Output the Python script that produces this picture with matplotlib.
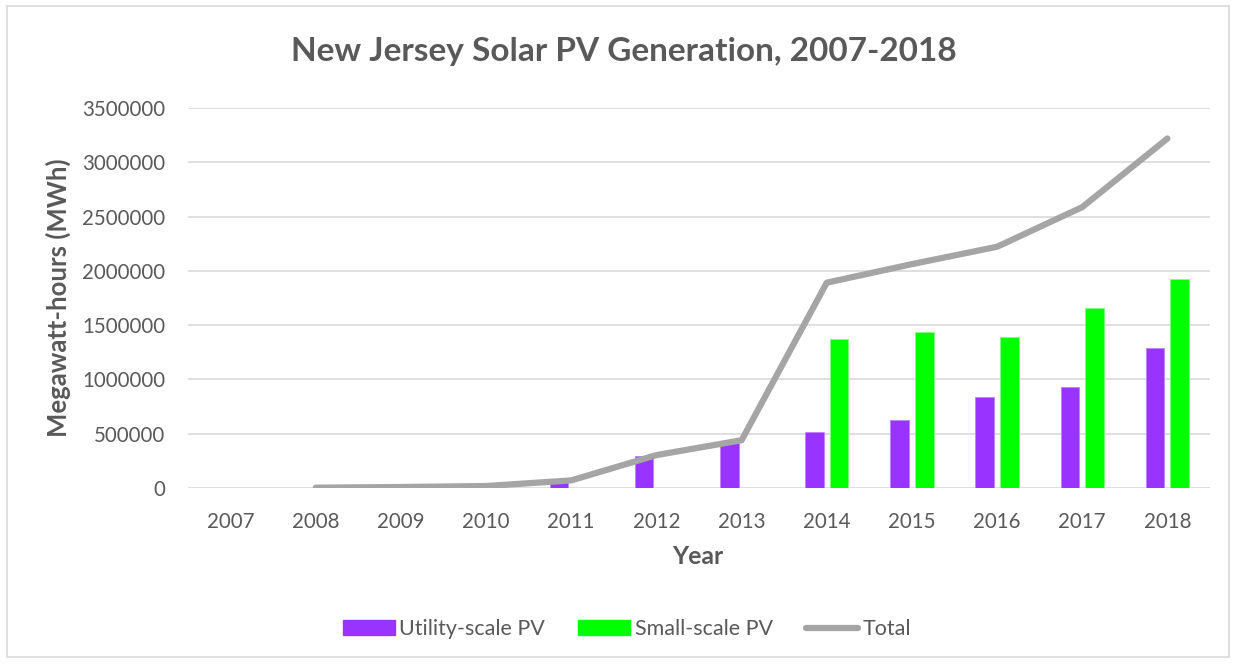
import numpy as np
import matplotlib
matplotlib.use("Agg")
import matplotlib.pyplot as plt
from matplotlib.patches import Rectangle
from matplotlib.lines import Line2D

# ── data (MWh) ───────────────────────────────────────────────────────────────
years = ["2007", "2008", "2009", "2010", "2011", "2012",
         "2013", "2014", "2015", "2016", "2017", "2018"]
utility_pv = [np.nan, 2000, 8000, 15000, 60000, 297000,
              410000, 516000, 626000, 835000, 927000, 1292000]
small_pv = [np.nan, np.nan, np.nan, np.nan, np.nan, np.nan,
            np.nan, 1375000, 1436000, 1387000, 1660000, 1927000]
total = [np.nan, 3000, 9000, 18000, 70000, 303000,
         440000, 1891000, 2062000, 2222000, 2587000, 3219000]

PURPLE = "#9933FF"
GREEN = "#00FF00"
GREY_LINE = "#A5A5A5"
TEXT = "#595959"
GRID = "#D9D9D9"

plt.rcParams["font.family"] = ["Lato", "DejaVu Sans"]

W, H = 1234, 665
fig = plt.figure(figsize=(W / 100, H / 100), dpi=100)
ax = fig.add_axes([188 / W, 1 - 488 / H, (1210 - 188) / W, (488 - 108) / H])

x = np.arange(len(years))
bw = 0.22
ax.bar(x - 0.145, utility_pv, width=bw, color=PURPLE, edgecolor="#C080FF",
       linewidth=0.6, zorder=2)
ax.bar(x + 0.145, small_pv, width=bw, color=GREEN, edgecolor="#80FF80",
       linewidth=0.6, zorder=2)
ax.plot(x, total, color=GREY_LINE, linewidth=4.5, solid_capstyle="round",
        solid_joinstyle="round", zorder=3)

ax.set_xlim(-0.5, len(years) - 0.5)
ax.set_ylim(0, 3500000)
ax.set_yticks(np.arange(0, 3500001, 500000))
ax.set_yticklabels([f"{v:d}" for v in range(0, 3500001, 500000)])
ax.set_xticks(x)
ax.set_xticklabels(years)
ax.tick_params(length=0, labelsize=14.8, colors=TEXT)
ax.tick_params(axis="y", pad=16.5)
ax.tick_params(axis="x", pad=17)
ax.grid(axis="y", color=GRID, linewidth=1.2, zorder=0)
ax.set_axisbelow(True)
for s in ax.spines.values():
    s.set_visible(False)

fig.text(623.5 / W, 1 - 52 / H, "New Jersey Solar PV Generation, 2007-2018",
         ha="center", va="center", fontsize=24, fontweight="bold", color=TEXT)
fig.text(58 / W, 1 - 298 / H, "Megawatt-hours (MWh)", rotation=90,
         ha="center", va="center", fontsize=18.5, fontweight="bold", color=TEXT)
fig.text(698 / W, 1 - 557 / H, "Year", ha="center", va="center",
         fontsize=17.8, fontweight="bold", color=TEXT)

handles = [Rectangle((0, 0), 1, 1, color=PURPLE),
           Rectangle((0, 0), 1, 1, color=GREEN),
           Line2D([0], [0], color=GREY_LINE, linewidth=4.5,
                  solid_capstyle="round")]
fig.legend(handles, ["Utility-scale PV", "Small-scale PV", "Total"],
           loc="center", bbox_to_anchor=(627 / W, 1 - 629 / H), ncol=3,
           frameon=False, fontsize=15.5, labelcolor=TEXT, handlelength=2.4,
           handleheight=0.65, handletextpad=0.22, columnspacing=1.55)

# outer chart border
fig.patches.append(Rectangle((7 / W, 8 / H), (W - 12) / W, (H - 14) / H,
                             transform=fig.transFigure, fill=False,
                             edgecolor=GRID, linewidth=1.2))

fig.savefig("out.png", dpi=100)
